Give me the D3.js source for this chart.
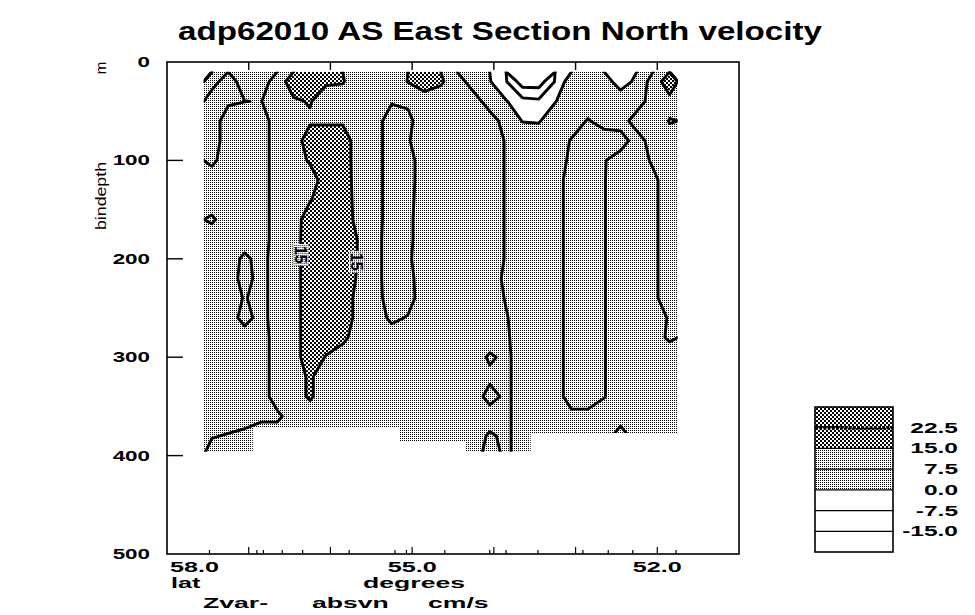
<!DOCTYPE html>
<html>
<head>
<meta charset="utf-8">
<script src="https://cdn.jsdelivr.net/npm/d3@7"></script>
<style>
  html, body { margin: 0; padding: 0; background: #fff; }
  svg { display: block; }
  text { font-family: "Liberation Sans", Arial, Helvetica, sans-serif; fill: #000; }
</style>
</head>
<body>
<svg id="chart" width="975" height="615"></svg>
<script>
// Section grid: column centres (deg N) and depth-bin centres (m)
const latitudes = [57.45, 57.25, 57.05, 56.85, 56.65, 56.45, 56.25, 56.05, 55.85, 55.65,
                   55.45, 55.25, 55.05, 54.85, 54.65, 54.45, 54.25, 54.05, 53.85, 53.65,
                   53.45, 53.25, 53.05, 52.85, 52.65, 52.45, 52.25, 52.05, 51.85];
const depths = [20, 40, 60, 80, 100, 120, 140, 160, 180, 200,
                220, 240, 260, 280, 300, 320, 340, 360, 380, 400];

// North velocity (cm/s): one row per depth bin, one value per latitude column
const velocity = [
  [5, 11, 4, 4, 11, 19, 19, 16, 15.5, 11, 11, 11, 15.3, 19, 16, 11, 4, 0.5, -7, -19, -19, -7, 5, 4, 3, -3, 1.5, 11, 19],
  [11, 8.5, 7.6, 7.3, 11, 14, 15.5, 11, 11, 11, 11, 8.2, 8.5, 11, 11, 11, 11, 4, 0.5, -5, -6, -0.3, 4, 4, 4, 4, 4, 11, 13],
  [11, 4, 4, 4, 11, 11, 14, 14, 14, 11, 11, 3, 6, 11, 11, 11, 11, 11, 4.5, -0.2, -0.5, 4, 4, 8, 5, 4, 11, 11, 15.3],
  [11, 4, 4, 4, 11, 11, 19, 19, 19, 11, 11, 3, 7, 11, 11, 11, 11, 11, 7, 4, 4, 4, 8, 11, 11, 11, 4, 11, 13],
  [9, 4, 4, 4, 11, 11, 16, 19, 19, 11, 11, 3, 5, 11, 11, 11, 11, 11, 7, 4, 4, 4, 9, 11, 8, 4, 4, 8.6, 11],
  [4, 4, 4, 4, 11, 11, 11, 19, 19, 11.5, 11, 3, 5, 11, 11, 11, 11, 11, 7, 4, 4, 4, 11, 11, 7.8, 4, 4, 6, 11],
  [4, 4, 4, 4, 11, 11, 14.5, 19, 19, 12, 11, 3, 5.5, 11, 11, 11, 11, 11, 7, 4, 4, 4, 11, 11, 7.8, 4, 4, 6, 11],
  [8.5, 4, 4, 4, 11, 11.5, 19, 19, 19, 12.5, 11, 3, 6, 11, 11, 11, 11, 11, 7, 4, 4, 4, 11, 11, 7.8, 4, 4, 6, 11],
  [4, 4, 4, 4, 11, 12, 19, 19, 19, 14.5, 11, 2, 6, 11, 11, 11, 11, 11, 7, 4, 4, 4, 11, 11, 7.8, 4, 4, 6, 11],
  [4, 4, 9, 5, 11, 12, 19, 19, 19, 14.5, 11, 2, 6.5, 11, 11, 11, 11, 11, 7, 4, 4, 4, 11, 11, 7.8, 4, 4, 6, 11],
  [4, 4, 10, 5, 11, 12, 19, 19, 19, 14, 11, 2, 5.5, 11, 11, 11, 11, 11, 6, 4, 4, 4, 11, 11, 7.8, 4, 4, 6, 11],
  [4, 4, 8, 5, 11, 12, 19, 19, 19, 12.5, 11, 3, 5, 11, 11, 11, 11, 11, 7, 4, 4, 4, 11, 11, 7.8, 4, 4, 6, 11],
  [4, 4, 10, 5, 11, 12, 19, 19, 19, 12.5, 11, 6, 8, 11, 11, 11, 11, 11, 8, 4, 4, 4, 11, 11, 7.8, 4, 4, 6, 7.8],
  [4, 4, 4, 4, 11, 12, 19, 19, 17, 11, 11, 11, 11, 11, 11, 11, 11, 11, 8.5, 4, 4, 4, 11, 11, 7.8, 4, 4, 5, 8.5],
  [4, 4, 4, 4, 11, 12, 19, 14.5, 11, 11, 11, 11, 11, 11, 11, 11, 11, 6.5, 9, 4, 4, 4, 11, 11, 7.8, 4, 4, 4, 4],
  [4, 4, 4, 4, 11, 12, 16, 11, 11, 11, 11, 11, 11, 11, 11, 11, 11, 9, 9, 4, 4, 4, 11, 11, 7.8, 4, 4, 4, 4],
  [4, 4, 4, 4, 11, 12, 16, 11, 11, 11, 11, 11, 11, 11, 11, 11, 11, 5, 9, 4, 4, 4, 11, 11, 7.8, 4, 4, 4, 4],
  [4, 4, 4, 6, 6, 11, 11, 11, 11, 11, 11, 11, 11, 11, 11, 11, 11, 11, 9, 4, 4, 4, 5.5, 5.5, 4, 4, 4, 4, 4],
  [7, 8, 9.5, 11, 11, 11, 11, 11, 11, 11, 11, 11, 11, 11, 11, 11, 11, 6.5, 9, 4, 4, 4, 4, 4, 4, 11, 4, 4, 4],
  [11, 11, 11, 11, 11, 11, 11, 11, 11, 11, 11, 11, 11, 11, 11, 11, 11, 4, 9, 4, 4, 4, 4, 4, 4, 11, 4, 4, 4]
];

// Deepest good bin reached in each latitude column (m)
const bottomDepth = [396, 396, 396, 372, 372, 372, 372, 372, 372, 372, 372, 372,
                     386, 386, 386, 386, 396, 396, 396, 396,
                     377, 377, 377, 377, 377, 377, 377, 377, 377];

// Profile positions marked on the lower axis (deg N)
const stationLats = [57.48, 56.90, 56.82, 56.59, 56.34, 55.77, 55.21, 55.07,
                     54.60, 54.05, 53.85, 53.46, 52.91, 52.60, 52.30, 51.77];

const depthTicks = [0, 100, 200, 300, 400, 500];
const latLabels = [58.0, 55.0, 52.0];
const degreeTicks = [57, 56, 55, 54, 53, 52];
const legendLevels = [22.5, 15.0, 7.5, 0.0, -7.5, -15.0];
const lineLevels = [-15, -7.5, 0, 7.5, 15];
const labelledLevel = 15;
const labelDepths = [196, 203];

const svg = d3.select("#chart");
svg.append("rect").attr("width", 975).attr("height", 615).attr("fill", "#fff");

const x = d3.scaleLinear().domain([58, 51]).range([167, 739]);
const y = d3.scaleLinear().domain([0, 500]).range([62, 554]);

const nx = latitudes.length, ny = depths.length;
// grid coordinate -> latitude / depth (value i sits at i + 0.5)
const gLat = d3.scaleLinear().domain([0.5, nx - 0.5]).range([latitudes[0], latitudes[nx - 1]]);
const gDep = d3.scaleLinear().domain([0.5, ny - 0.5]).range([depths[0], depths[ny - 1]]);
const toPx = p => [x(gLat(p[0])), y(gDep(p[1]))];

const values = velocity.flat();
const contourGen = d3.contours().size([nx, ny]);

// ---------- patterns and clip ----------
const defs = svg.append("defs");
const light = defs.append("pattern").attr("id", "dotsLight")
  .attr("width", 2).attr("height", 2).attr("patternUnits", "userSpaceOnUse");
light.append("rect").attr("width", 2).attr("height", 2).attr("fill", "#fff");
light.append("rect").attr("width", 1).attr("height", 1).attr("fill", "#000");

const dense = defs.append("pattern").attr("id", "dotsDense")
  .attr("width", 4).attr("height", 4).attr("patternUnits", "userSpaceOnUse");
dense.append("rect").attr("width", 4).attr("height", 4).attr("fill", "#fff");
dense.append("rect").attr("width", 2).attr("height", 2).attr("fill", "#000");
dense.append("rect").attr("x", 2).attr("y", 2).attr("width", 2).attr("height", 2).attr("fill", "#000");

// region actually covered by good bins
const region = [[gLat(0), gDep(0)], [gLat(nx), gDep(0)]];
for (let i = nx - 1; i >= 0; i--) {
  region.push([gLat(i + 1), bottomDepth[i]], [gLat(i), bottomDepth[i]]);
}
defs.append("clipPath").attr("id", "dataClip")
  .append("path")
  .attr("d", d3.line().x(d => x(d[0])).y(d => y(d[1]))(region) + "Z");

// ---------- shaded bands ----------
const geoPath = d3.geoPath(d3.geoTransform({
  point(a, b) { const p = toPx([a, b]); this.stream.point(p[0], p[1]); }
}));
const plot = svg.append("g").attr("clip-path", "url(#dataClip)");
const bandFills = [
  { level: 0, fill: "url(#dotsLight)" },
  { level: 15, fill: "url(#dotsDense)" }
];
bandFills.forEach(b => {
  plot.append("path")
    .attr("d", geoPath(contourGen.contour(values, b.level)))
    .attr("fill", b.fill);
});

// ---------- contour lines (grid-edge pieces removed) ----------
function isoLines(multi) {
  const out = [];
  const onEdge = (p, q) =>
    (p[0] === 0 && q[0] === 0) || (p[0] === nx && q[0] === nx) ||
    (p[1] === 0 && q[1] === 0) || (p[1] === ny && q[1] === ny);
  multi.coordinates.forEach(poly => poly.forEach(ring => {
    const pts = ring.slice(0, -1);
    const L = pts.length;
    let start = -1;
    for (let k = 0; k < L; k++) if (onEdge(pts[k], pts[(k + 1) % L])) { start = k; break; }
    if (start < 0) { out.push(pts.concat([pts[0]])); return; }
    let cur = [];
    for (let s = 1; s <= L; s++) {
      const k = (start + s) % L;
      const p = pts[k], q = pts[(k + 1) % L];
      if (onEdge(p, q)) { if (cur.length > 1) out.push(cur); cur = []; }
      else { if (!cur.length) cur.push(p); cur.push(q); }
    }
    if (cur.length > 1) out.push(cur);
  }));
  return out;
}

const lineGen = d3.line();
const linesByLevel = {};
lineLevels.forEach(level => {
  const lines = isoLines(contourGen.contour(values, level)).map(l => l.map(toPx));
  linesByLevel[level] = lines;
  plot.selectAll(null).data(lines).enter().append("path")
    .attr("d", lineGen)
    .attr("fill", "none")
    .attr("stroke", "#000")
    .attr("stroke-width", 2.9)
    .attr("stroke-linejoin", "round")
    .attr("stroke-linecap", "round");
});

// ---------- contour value labels on the longest 15 cm/s line ----------
const mainLine = linesByLevel[labelledLevel].reduce((a, b) => (b.length > a.length ? b : a));
function crossings(line, yy) {
  const xs = [];
  for (let k = 0; k < line.length - 1; k++) {
    const [x0, y0] = line[k], [x1, y1] = line[k + 1];
    if ((y0 - yy) * (y1 - yy) <= 0 && y0 !== y1) xs.push(x0 + (yy - y0) / (y1 - y0) * (x1 - x0));
  }
  return xs;
}
labelDepths.forEach((d, i) => {
  const yy = y(d);
  const xs = crossings(mainLine, yy);
  if (!xs.length) return;
  const xx = i === 0 ? d3.min(xs) : d3.max(xs);
  const g = plot.append("g").attr("transform", `translate(${xx},${yy}) rotate(90)`);
  g.append("rect").attr("x", -11).attr("y", -8).attr("width", 22).attr("height", 16)
    .attr("fill", "url(#dotsLight)");
  g.append("text").attr("text-anchor", "middle").attr("dy", "0.36em")
    .attr("font-size", 16).attr("font-weight", "bold").text(String(labelledLevel));
});

// ---------- frame and ticks ----------
const axes = svg.append("g").attr("stroke", "#000").attr("fill", "none");
axes.append("rect").attr("x", x(58)).attr("y", y(0))
  .attr("width", x(51) - x(58)).attr("height", y(500) - y(0))
  .attr("stroke-width", 1.6);

axes.selectAll(null).data(depthTicks.slice(1, -1)).enter().append("line")
  .attr("x1", x(58)).attr("x2", x(58) + 16)
  .attr("y1", d => y(d)).attr("y2", d => y(d)).attr("stroke-width", 1.4);
axes.selectAll(null).data(degreeTicks).enter().append("line")
  .attr("x1", d => x(d)).attr("x2", d => x(d))
  .attr("y1", y(0)).attr("y2", y(0) + 8).attr("stroke-width", 1.4);
axes.selectAll(null).data(degreeTicks).enter().append("line")
  .attr("x1", d => x(d)).attr("x2", d => x(d))
  .attr("y1", y(500)).attr("y2", y(500) - 7).attr("stroke-width", 1.2);
axes.selectAll(null).data(stationLats).enter().append("line")
  .attr("x1", d => x(d)).attr("x2", d => x(d))
  .attr("y1", y(500)).attr("y2", y(500) - 4).attr("stroke-width", 1.2);

// ---------- text helper (wide plotter lettering) ----------
function label(parent, px, py, str, o = {}) {
  const g = parent.append("g")
    .attr("transform", `translate(${px},${py}) scale(${o.sx || 1},1)`);
  return g.append("text")
    .attr("text-anchor", o.anchor || "start")
    .attr("dy", o.dy || "0")
    .attr("font-size", o.size || 14)
    .attr("font-weight", o.weight || "bold")
    .text(str);
}
const txt = svg.append("g");

depthTicks.forEach(d => label(txt, 150, y(d), String(d), { anchor: "end", dy: "0.36em", sx: 1.6 }));

latLabels.forEach((v, i) => {
  const anchor = i === 0 ? "start" : "middle";
  const px = i === 0 ? x(v) + 3 : x(v);
  label(txt, px, 572, v.toFixed(1), { anchor, sx: 1.8 });
});
label(txt, 171, 588, "lat", { sx: 1.8 });
label(txt, 414, 588, "degrees", { anchor: "middle", sx: 1.9 });
label(txt, 203, 608, "Zvar-", { sx: 1.9 });
label(txt, 312, 608, "absvn", { sx: 1.9 });
label(txt, 428, 608, "cm/s", { sx: 1.9 });

// depth axis title
txt.append("text")
  .attr("transform", "translate(106,196) rotate(-90)")
  .attr("text-anchor", "middle")
  .attr("font-size", 15)
  .attr("textLength", 68).attr("lengthAdjust", "spacingAndGlyphs")
  .style("font-family", "'Liberation Sans Narrow', 'Liberation Sans', Arial, sans-serif")
  .text("bindepth");
txt.append("text")
  .attr("transform", "translate(106,68) rotate(-90)")
  .attr("text-anchor", "middle")
  .attr("font-size", 15)
  .style("font-family", "'Liberation Sans Narrow', 'Liberation Sans', Arial, sans-serif")
  .text("m");

// title
txt.append("text")
  .attr("x", 500).attr("y", 40)
  .attr("text-anchor", "middle")
  .attr("font-size", 26).attr("font-weight", "bold")
  .attr("textLength", 644).attr("lengthAdjust", "spacingAndGlyphs")
  .style("font-family", "'Liberation Sans Narrow', 'Liberation Sans', Arial, sans-serif")
  .text("adp62010  AS  East Section North velocity");

// ---------- legend ----------
const lg = svg.append("g");
const lgX = 815, lgW = 78;
const nBands = legendLevels.length + 1;
const ly = d3.scaleLinear().domain([0, nBands]).range([407, 552]);
const bandLower = k => (k < legendLevels.length ? legendLevels[k] : -Infinity);
const bandFill = v => (v >= 15 ? "url(#dotsDense)" : v >= 0 ? "url(#dotsLight)" : "#fff");
lg.selectAll(null).data(d3.range(nBands)).enter().append("rect")
  .attr("x", lgX).attr("y", k => ly(k)).attr("width", lgW)
  .attr("height", k => ly(k + 1) - ly(k))
  .attr("fill", k => bandFill(bandLower(k)));
legendLevels.forEach((v, k) => {
  const yy = ly(k + 1);
  const ln = lg.append("line").attr("x1", lgX).attr("x2", lgX + lgW)
    .attr("y1", yy).attr("y2", yy).attr("stroke", "#000");
  if (k === 0) ln.attr("stroke-width", 3.6).attr("stroke-dasharray", "3 1.2");
  else ln.attr("stroke-width", 1.2);
  label(lg, 958, yy, v.toFixed(1), { anchor: "end", dy: "0.36em", sx: 1.75 });
});
lg.append("rect").attr("x", lgX).attr("y", ly(0)).attr("width", lgW)
  .attr("height", ly(nBands) - ly(0)).attr("fill", "none")
  .attr("stroke", "#000").attr("stroke-width", 1.6);
</script>
</body>
</html>
